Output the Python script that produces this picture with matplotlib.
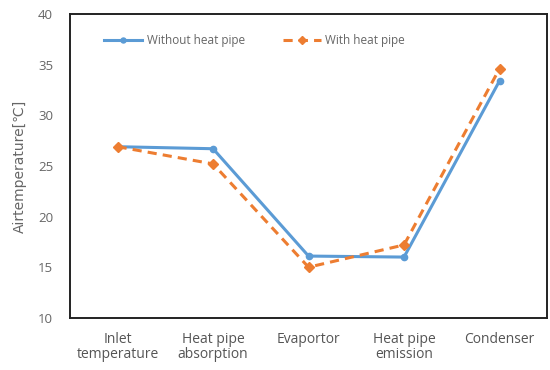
import numpy as np
import matplotlib
matplotlib.use("Agg")
import matplotlib.pyplot as plt

categories = ["Inlet\ntemperature", "Heat pipe\nabsorption", "Evaportor", "Heat pipe\nemission", "Condenser"]
without_hp = [26.9, 26.7, 16.1, 16.0, 33.4]
with_hp = [26.9, 25.2, 15.0, 17.2, 34.6]

plt.rcParams['font.family'] = ['Open Sans', 'DejaVu Sans']

fig = plt.figure(figsize=(5.5, 3.7), dpi=100)
ax = fig.add_axes([0.127, 0.141, 0.868, 0.821])

x = np.arange(len(categories))
ax.plot(x, without_hp, color='#5b9bd5', lw=2.2, marker='o', ms=4.5, label='Without heat pipe')
ax.plot(x, with_hp, color='#ed7d31', lw=2.2, ls=(0, (3, 2)), marker='D', ms=5.5, label='With heat pipe')

ax.set_xlim(-0.5, len(categories) - 0.5)
ax.set_ylim(10, 40)
ax.set_yticks(np.arange(10, 41, 5))
ax.set_xticks(x)
ax.set_xticklabels(categories, fontsize=10, color='#555555', linespacing=1.05)
ax.tick_params(axis='y', length=0, labelsize=9.5, labelcolor='#666666', pad=12)
ax.tick_params(axis='x', length=0, pad=10)
for s in ax.spines.values():
    s.set_linewidth(1.4)
    s.set_color('#222222')

ax.set_ylabel('Airtemperature[\u2103]', fontsize=10, color='#666666', labelpad=8,
              family=['DejaVu Sans'])

leg = ax.legend(loc='upper left', bbox_to_anchor=(0.05, 0.97), ncol=2, frameon=False,
                fontsize=8.5, labelcolor='#666666', handlelength=3.2, columnspacing=3.2,
                handletextpad=0.4, markerscale=0.8)

fig.savefig('out.png')
